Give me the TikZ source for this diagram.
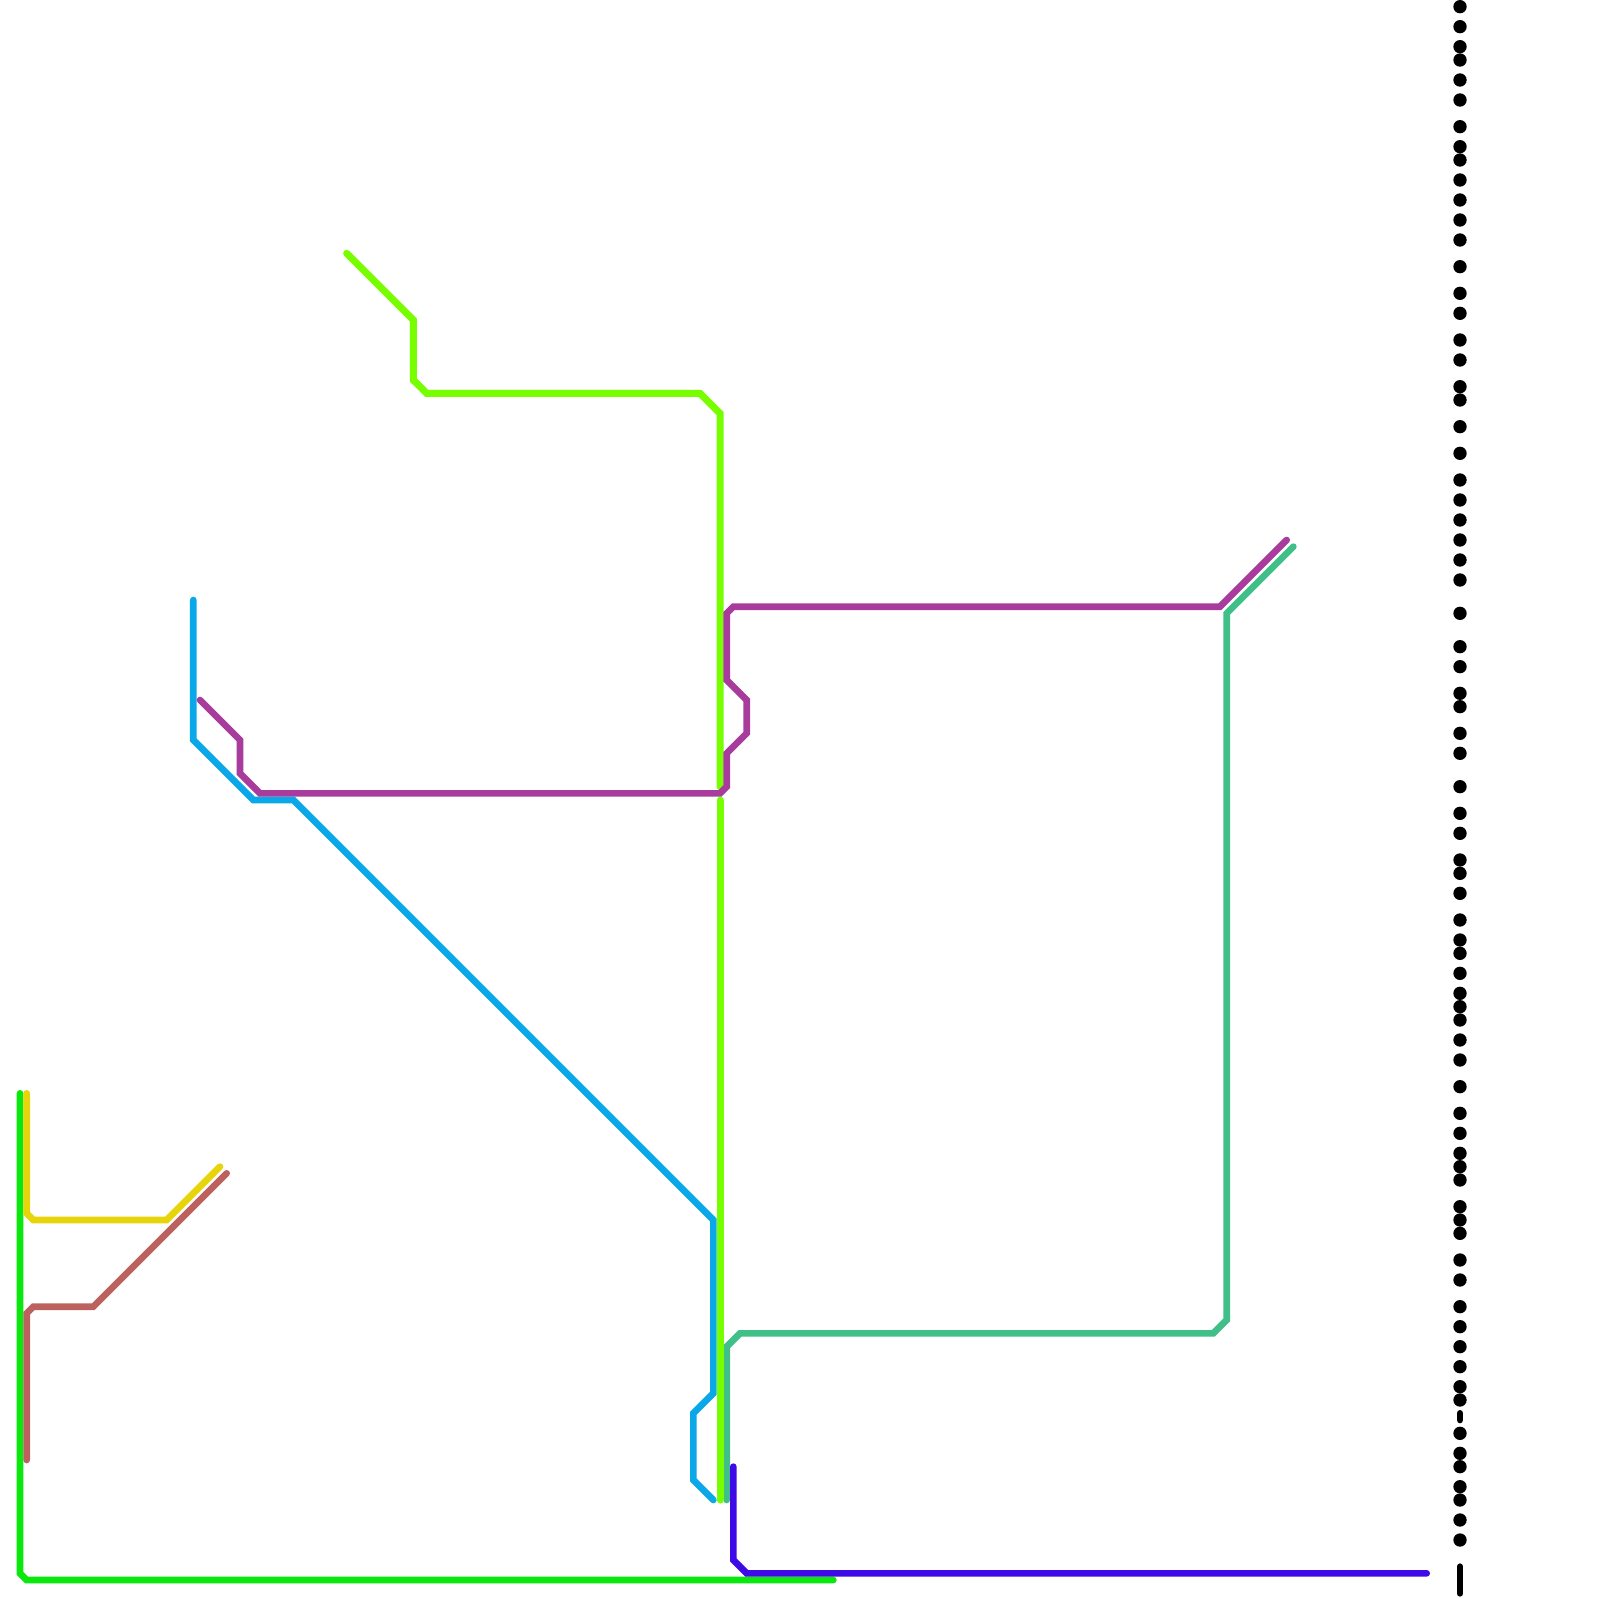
\documentclass[tikz,border=0pt]{standalone}
\definecolor{cLime}{HTML}{77FF00}
\definecolor{cGreen}{HTML}{0AE80F}
\definecolor{cYellow}{HTML}{E8D40A}
\definecolor{cBrown}{HTML}{BC625E}
\definecolor{cBlue}{HTML}{0AA8E8}
\definecolor{cPurple}{HTML}{A83C9C}
\definecolor{cTeal}{HTML}{40C088}
\definecolor{cIndigo}{HTML}{3F0AE8}
\tikzset{
  route/.style={line width=6.667pt,line cap=round,line join=miter},
  stopdot/.style={fill=black,draw=none},
}
\begin{document}
\begin{tikzpicture}[x=1pt,y=-1pt]
\useasboundingbox[fill=white] (0,0) rectangle (1600,1600);
% routes
\draw[route,cBlue] (193.33,600) -- (193.33,740) -- (253.33,800) -- (293.33,800) -- (713.33,1220) -- (713.33,1393.33) -- (693.33,1413.33) -- (693.33,1480) -- (713.33,1500);
\draw[route,cTeal] (726.67,1500) -- (726.67,1346.67) -- (740,1333.33) -- (1213.33,1333.33) -- (1226.67,1320) -- (1226.67,613.33) -- (1293.33,546.67);
\draw[route,cLime,line width=7pt] (346.67,253.33) -- (413.33,320) -- (413.33,380) -- (426.67,393.33) -- (700,393.33) -- (720,413.33) -- (720,786.67);
\draw[route,cLime,line width=7pt] (720,800) -- (720,1500);
\draw[route,cPurple] (200,700) -- (240,740) -- (240,773.33) -- (260,793.33) -- (720,793.33) -- (726.67,786.67) -- (726.67,753.33) -- (746.67,733.33) -- (746.67,700) -- (726.67,680) -- (726.67,613.33) -- (733.33,606.67) -- (1220,606.67) -- (1286.67,540);
\draw[route,cGreen] (20,1093.33) -- (20,1573.33) -- (26.67,1580) -- (833.33,1580);
\draw[route,cYellow] (26.67,1093.33) -- (26.67,1213.33) -- (33.33,1220) -- (166.67,1220) -- (220,1166.67);
\draw[route,cBrown] (26.67,1460) -- (26.67,1313.33) -- (33.33,1306.67) -- (93.33,1306.67) -- (226.67,1173.33);
\draw[route,cIndigo] (733.33,1466.67) -- (733.33,1560) -- (746.67,1573.33) -- (1426.67,1573.33);
% stops
\foreach \y in {6.67,26.67,46.67,60,80,100,126.67,146.67,160,180,200,220,240,266.67,293.33,313.33,340,360,386.67,400,
426.67,453.33,480,500,520,540,560,580,613.33,646.67,666.67,693.33,706.67,733.33,753.33,786.67,
813.33,833.33,860,873.33,893.33,920,940,953.33,973.33,993.33,1006.67,1020,1040,1060,1086.67,1113.33,1133.33,1153.33,1166.67,1180,
1206.67,1220,1233.33,1260,1280,1306.67,1326.67,1346.67,1366.67,1386.67,1400,1433.33,1453.33,1466.67,1486.67,1500,1520,1540}
  \fill[stopdot] (1460,\y) circle[radius=6.667pt];
\draw[route,black] (1460,1413.33) -- (1460,1420);
\draw[route,black] (1460,1566.67) -- (1460,1593.33);
\end{tikzpicture}
\end{document}
